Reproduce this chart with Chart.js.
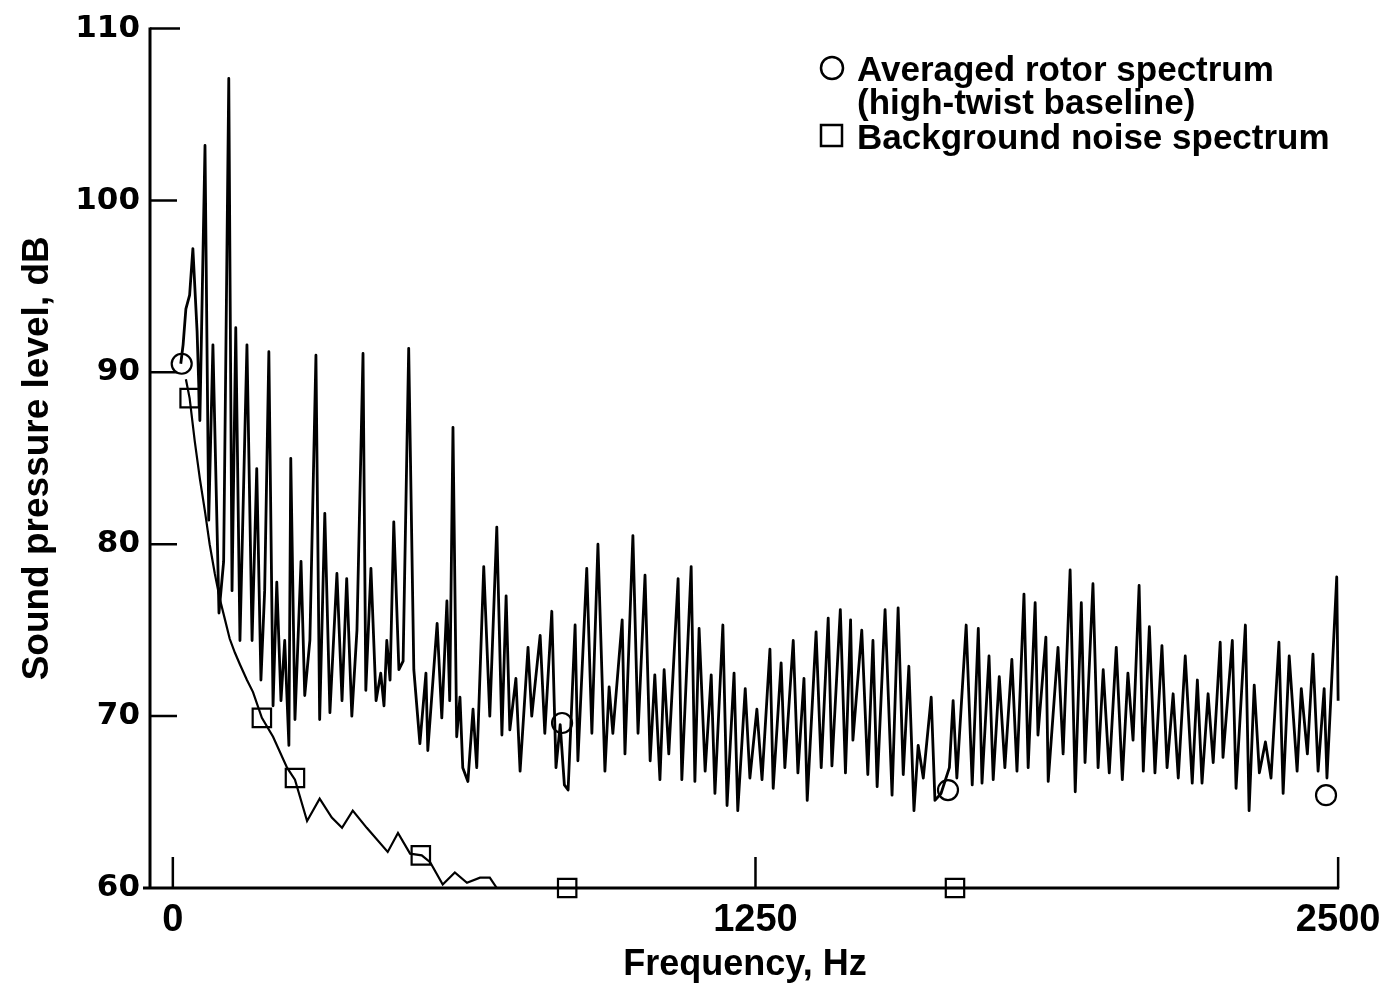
<!DOCTYPE html>
<html>
<head>
<meta charset="utf-8">
<title>Rotor spectrum</title>
<script src="https://cdn.jsdelivr.net/npm/chart.js@4.4.1/dist/chart.umd.min.js"></script>
<style>
  html,body{margin:0;padding:0;background:#fff;}
  #wrap{width:1392px;height:987px;position:relative;}
</style>
</head>
<body>
<div id="wrap"><canvas id="spl"></canvas></div>
<script>
// ===== Spectrum data: frequency (Hz) / level (dB) =====
const rotorHz = [
  17,22,28,36,43,52,58,69,77,86,
  99,109,120,127,135,144,159,170,180,189,
  197,206,215,223,232,240,249,253,262,275,
  283,294,307,315,326,337,352,363,373,384,
  395,408,414,425,436,446,453,459,466,474,
  485,494,506,517,530,543,547,567,577,588,
  594,601,609,616,622,633,644,652,
  667,680,695,706,715,723,736,745,762,770,
  788,798,813,822,831,840,848,863,869,888,
  899,912,927,936,944,964,970,987,998,1013,
  1024,1034,1045,1054,1064,1084,1092,1112,1120,1129,
  1142,1155,1163,1180,1189,1204,1212,1228,1238,1253,
  1264,1281,1288,1305,1313,1331,
  1341,1354,1361,1380,1391,1406,1414,1432,1443,1454,
  1459,1478,1491,1502,1511,1528,1543,1556,1567,1579,
  1590,1599,1610,1627,1635,1648,1666,1674,1682,1702,
  1715,1728,1736,1751,1760,1773,1785,1800,1811,1826,
  1835,1850,1856,1873,1878,1899,1910,1925,1936,
  1949,1957,1974,1985,1996,2009,2024,2037,2049,2060,
  2073,2082,2095,2107,2122,2133,2146,2157,2172,2187,
  2198,2208,2221,2232,2247,2253,2273,2281,2301,2309,
  2320,2331,2344,2356,2373,2382,2395,2412,2421,2434,
  2446,2457,2470,2476,2497,2500
];
const rotorDb = [
  90.5,91.6,93.7,94.5,97.2,92.4,87.2,103.2,81.4,91.6,
  76.0,79.0,107.1,77.3,92.6,74.4,91.6,74.4,84.4,72.1,
  77.3,91.2,70.6,77.8,70.9,74.4,68.3,85.0,69.8,79.0,
  71.2,74.4,91.0,69.8,81.8,70.2,78.3,70.9,78.0,70.0,
  75.0,91.1,71.5,78.6,70.9,72.5,70.6,74.4,72.1,81.3,
  72.7,73.2,91.4,72.7,68.4,72.5,68.0,75.4,69.9,76.7,
  70.9,86.8,68.8,71.1,67.0,66.2,70.4,67.0,
  78.7,70.0,81.0,68.9,77.0,69.2,72.2,66.8,74.0,70.0,
  74.7,69.0,76.1,67.0,69.5,66.0,65.7,75.3,67.4,78.6,
  69.0,80.0,66.8,71.7,69.0,75.6,67.8,80.5,69.0,78.2,
  67.4,72.4,66.3,72.7,67.8,78.0,66.3,78.7,66.2,75.1,
  66.8,72.4,65.5,75.3,64.8,72.5,64.5,71.6,66.4,70.4,
  66.3,73.9,65.8,73.1,67.0,74.4,
  66.7,72.2,65.1,74.9,67.0,75.7,67.1,76.2,66.7,75.6,
  68.6,75.0,66.6,74.4,65.9,76.2,65.4,76.3,66.6,72.9,
  64.5,68.3,66.4,71.1,65.1,65.5,67.0,70.9,66.4,75.3,
  66.0,75.1,66.1,73.5,66.3,72.3,67.0,73.3,66.8,77.1,
  67.0,76.6,68.9,74.6,66.2,74.0,67.8,78.5,65.6,
  76.6,67.3,77.7,67.0,72.7,66.7,74.0,66.3,72.5,68.6,
  77.6,66.8,75.2,66.7,74.1,67.0,71.3,66.4,73.5,66.1,
  72.1,66.1,71.3,67.3,74.3,67.6,74.4,65.8,75.3,64.5,
  71.8,66.7,68.5,66.4,74.3,65.5,73.5,66.8,71.6,67.8,
  73.6,66.8,71.6,66.4,78.1,70.9
];

const bgHz = [28,36,47,58,69,79,90,101,112,122,133,144,159,172,191,215,245,262,288,315,
              341,363,386,416,461,483,509,534,552,579,605,631,659,680,695,2500];
const bgDb = [89.6,88.5,86.0,83.8,81.9,80.0,78.3,76.8,75.6,74.5,73.7,73.0,72.1,71.4,69.9,68.8,67.0,66.3,63.9,65.2,
              64.1,63.5,64.5,63.5,62.1,63.2,62.0,61.9,61.5,60.2,60.9,60.3,60.6,60.6,60.0,60.0];

// symbols placed along each curve
const rotorMarkHz = [19, 835, 1663, 2474];
const rotorMarkDb = [90.5, 69.6, 65.7, 65.4];
const bgMarkHz = [36, 191, 262, 532, 846, 1678];
const bgMarkDb = [88.5, 69.9, 66.4, 61.9, 60, 60];

const xTicks = [0, 1250, 2500];
const yTicks = [60, 70, 80, 90, 100, 110];

const pts = (xs, ys) => xs.map((x, i) => ({ x: x, y: ys[i] }));
const SANS = '"Liberation Sans", Arial, sans-serif';

// axis lines with tick marks pointing into the plot
const frame = {
  id: 'frame',
  beforeDatasetsDraw(chart){
    const { ctx, chartArea: a, scales: { x, y } } = chart;
    ctx.save();
    ctx.strokeStyle = '#000';
    ctx.lineWidth = 3;
    ctx.beginPath();
    ctx.moveTo(a.left, y.getPixelForValue(110) - 1);
    ctx.lineTo(a.left, a.bottom);
    ctx.moveTo(a.left - 7, a.bottom);
    ctx.lineTo(x.getPixelForValue(2500) + 1, a.bottom);
    ctx.stroke();
    ctx.lineWidth = 2.5;
    ctx.beginPath();
    yTicks.forEach(v => {
      if (v === 60) return;
      const py = y.getPixelForValue(v);
      ctx.moveTo(a.left, py);
      ctx.lineTo(a.left + (v === 110 ? 30 : 27), py);
    });
    xTicks.forEach(v => {
      const px = x.getPixelForValue(v);
      ctx.moveTo(px, a.bottom);
      ctx.lineTo(px, a.bottom - 31);
    });
    ctx.stroke();
    ctx.restore();
  }
};

// key in the upper right corner
const keyBox = {
  id: 'keyBox',
  afterDraw(chart){
    const ctx = chart.ctx;
    ctx.save();
    ctx.strokeStyle = '#000';
    ctx.fillStyle = '#000';
    ctx.lineWidth = 2.5;
    ctx.beginPath(); ctx.arc(832, 68, 11, 0, Math.PI * 2); ctx.stroke();
    ctx.beginPath(); ctx.rect(821, 125, 21, 21); ctx.stroke();
    ctx.font = 'bold 35px ' + SANS;
    ctx.textBaseline = 'alphabetic';
    ctx.fillText('Averaged rotor spectrum', 857, 81);
    ctx.fillText('(high-twist baseline)', 857, 114);
    ctx.fillText('Background noise spectrum', 857, 149);
    ctx.restore();
  }
};

new Chart(document.getElementById('spl'), {
  type: 'line',
  data: {
    datasets: [
      { label: 'Averaged rotor spectrum (high-twist baseline)', data: pts(rotorHz, rotorDb),
        borderColor: '#000', borderWidth: 2.8, pointRadius: 0, tension: 0, borderJoinStyle: 'round' },
      { label: 'Background noise spectrum', data: pts(bgHz, bgDb),
        borderColor: '#000', borderWidth: 2.2, pointRadius: 0, tension: 0 },
      { label: 'rotor symbols', data: pts(rotorMarkHz, rotorMarkDb), showLine: false, clip: false,
        pointStyle: 'circle', pointRadius: 10, pointBorderWidth: 2.2,
        pointBorderColor: '#000', pointBackgroundColor: 'rgba(0,0,0,0)' },
      { label: 'background symbols', data: pts(bgMarkHz, bgMarkDb), showLine: false, clip: false,
        pointStyle: 'rect', pointRadius: 13, pointBorderWidth: 2.2,
        pointBorderColor: '#000', pointBackgroundColor: 'rgba(0,0,0,0)' }
    ]
  },
  options: {
    responsive: true, maintainAspectRatio: false, animation: false,
    layout: { padding: { top: 26, right: 52, left: 0, bottom: 0 } },
    plugins: { legend: { display: false }, tooltip: { enabled: false } },
    scales: {
      x: {
        type: 'linear', min: -49, max: 2504,
        afterBuildTicks: s => { s.ticks = xTicks.map(v => ({ value: v })); },
        afterFit: s => { s.height = 99; },
        grid: { display: false, drawTicks: false }, border: { display: false },
        ticks: { padding: 10, maxRotation: 0, color: '#000', callback: v => String(v),
          font: { family: SANS, size: 38, weight: 'bold' } },
        title: { display: true, text: 'Frequency, Hz', color: '#000',
          font: { family: SANS, size: 36, weight: 'bold' }, padding: { top: 0, bottom: 0 } }
      },
      y: {
        type: 'linear', min: 60, max: 110,
        afterBuildTicks: s => { s.ticks = yTicks.map(v => ({ value: v })); },
        afterFit: s => { s.width = 150; },
        grid: { display: false, drawTicks: false }, border: { display: false },
        ticks: { padding: 10, color: '#000', callback: v => String(v),
          font: { family: '"DejaVu Sans", sans-serif', size: 31, weight: 'bold' } },
        title: { display: true, text: 'Sound pressure level, dB', color: '#000',
          font: { family: SANS, size: 37, weight: 'bold' }, padding: { top: 16, bottom: 0 } }
      }
    }
  },
  plugins: [frame, keyBox]
});
</script>
</body>
</html>
